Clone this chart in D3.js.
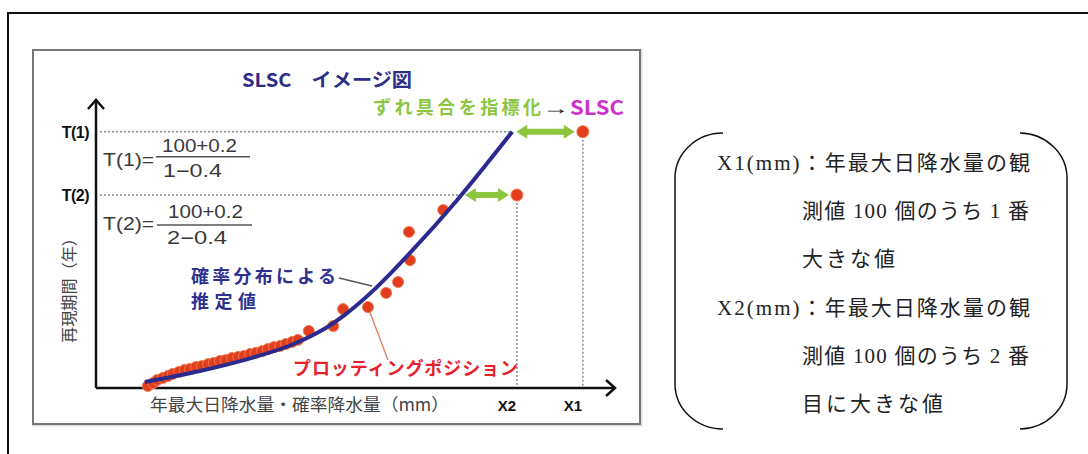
<!DOCTYPE html>
<html><head><meta charset="utf-8">
<script src="https://cdn.jsdelivr.net/npm/d3@7"></script>
<style>
html,body{margin:0;padding:0;background:#fff;}
svg{display:block;}
</style></head>
<body>
<svg id="c" width="1088" height="454"></svg>
<script>
// ---- data (arbitrary illustration units) ----
const curveX = [9.4, 20, 29.7, 37, 43, 48, 53.4, 60.5, 69.6, 80.2];
const curveY = [2.1, 5.9, 10.3, 14.5, 19.5, 25.5, 33.8, 46.9, 65.3, 89];
const dotsX = [10.0, 11.0, 11.8, 12.9, 13.9, 14.8, 16.0, 17.1, 18.1, 19.3, 20.4, 21.6, 22.7, 23.9, 25.0, 26.2, 27.4, 28.5, 29.7, 30.8, 32.0, 33.1, 34.3, 35.5, 36.6, 37.8, 38.9, 41.0, 45.7, 47.6, 52.4, 55.9, 58.2, 60.5, 60.3, 66.9];
const dotsY = [0.7, 1.7, 2.8, 3.5, 4.2, 4.9, 5.6, 6.3, 6.6, 7.3, 7.6, 8.3, 8.7, 9.4, 9.7, 10.4, 10.8, 11.1, 11.8, 12.2, 12.8, 13.5, 14.2, 14.6, 15.3, 16.0, 16.7, 19.8, 21.5, 27.4, 28.1, 33.0, 36.8, 44.4, 54.2, 61.8];
const tLabels = ["T(1)", "T(2)"];
const tLevels = [89, 67];
const curveAtT = [80.2, 70.3];
const xLabels = ["X1", "X2"];
const xValues = [93.8, 81.1];
const formulaNum = ["100+0.2", "100+0.2"];
const formulaDen = ["1\u22120.4", "2\u22120.4"];
const noteLines = [
  ["X1(mm)：年最大日降水量の観", 0],
  ["測値 100 個のうち 1 番", 1],
  ["大きな値", 1],
  ["X2(mm)：年最大日降水量の観", 0],
  ["測値 100 個のうち 2 番", 1],
  ["目に大きな値", 1]
];

const svg = d3.select("#c");
const JP = "'Noto Sans CJK JP', 'Noto Sans', sans-serif";
const SANS = "'Liberation Sans', Arial, sans-serif";

// outer frame (top + left visible)
svg.append("path").attr("d", "M8,454 L8,13 L1088,13").attr("fill", "none").attr("stroke", "#111").attr("stroke-width", 2);

// inner picture frame
svg.append("rect").attr("x", 34).attr("y", 51).attr("width", 607).attr("height", 374)
  .attr("fill", "none").attr("stroke", "#ddd").attr("stroke-width", 3);
svg.append("rect").attr("x", 33).attr("y", 50).attr("width", 607).attr("height", 374)
  .attr("fill", "#fff").attr("stroke", "#777").attr("stroke-width", 2);

// scales
const x = d3.scaleLinear().domain([0, 100]).range([96, 615]);
const y = d3.scaleLinear().domain([0, 100]).range([388, 100]);

// dotted guide lines
const g = svg.append("g");
tLevels.forEach((t, i) => {
  g.append("line").attr("x1", 100).attr("x2", x(curveAtT[i]))
    .attr("y1", y(t)).attr("y2", y(t))
    .attr("stroke", "#8a8a8a").attr("stroke-width", 1.5).attr("stroke-dasharray", "2,2");
});
xValues.forEach((v, i) => {
  g.append("line").attr("x1", x(v)).attr("x2", x(v))
    .attr("y1", y(tLevels[i])).attr("y2", y(0))
    .attr("stroke", "#8a8a8a").attr("stroke-width", 1.5).attr("stroke-dasharray", "2,2");
});

// axes
svg.append("line").attr("x1", x(0)).attr("x2", 614).attr("y1", y(0)).attr("y2", y(0)).attr("stroke", "#111").attr("stroke-width", 2.5);
svg.append("line").attr("x1", x(0)).attr("x2", x(0)).attr("y1", y(0)).attr("y2", 101).attr("stroke", "#111").attr("stroke-width", 2.5);
svg.append("path").attr("d", `M${606},${y(0)-8} L${615},${y(0)} L${606},${y(0)+8}`).attr("fill", "none").attr("stroke", "#111").attr("stroke-width", 2.5);
svg.append("path").attr("d", `M${x(0)-8},${109} L${x(0)},${100} L${x(0)+8},${109}`).attr("fill", "none").attr("stroke", "#111").attr("stroke-width", 2.5);

// leader lines
svg.append("line").attr("x1", 339).attr("y1", 278).attr("x2", 372).attr("y2", 286).attr("stroke", "#555").attr("stroke-width", 1.3);
svg.append("line").attr("x1", x(52.4)).attr("y1", y(28.1)).attr("x2", 388).attr("y2", 360).attr("stroke", "#e07a5a").attr("stroke-width", 1.3);

// dots
const pts = dotsX.map((d, i) => [d, dotsY[i]]);
svg.append("g").selectAll("circle").data(pts).join("circle")
  .attr("cx", d => x(d[0])).attr("cy", d => y(d[1])).attr("r", 5.5)
  .attr("fill", "#e23d1c").attr("stroke", "#f07a50").attr("stroke-width", 1);

// fitted curve
const cpts = curveX.map((d, i) => [d, curveY[i]]);
svg.append("path").datum(cpts)
  .attr("d", d3.line().x(d => x(d[0])).y(d => y(d[1])).curve(d3.curveCatmullRom))
  .attr("fill", "none").attr("stroke", "#2b2b8f").attr("stroke-width", 4);

// X1 / X2 observation dots
xValues.forEach((v, i) => {
  svg.append("circle").attr("cx", x(v)).attr("cy", y(tLevels[i])).attr("r", 6)
    .attr("fill", "#e23d1c").attr("stroke", "#f07a50").attr("stroke-width", 1);
});

// green double arrows
function dblArrow(x1, x2, yy) {
  const h = 3, hl = 11, hw = 7;
  const p = `M${x1},${yy} L${x1+hl},${yy-hw} L${x1+hl},${yy-h} L${x2-hl},${yy-h} L${x2-hl},${yy-hw} L${x2},${yy} L${x2-hl},${yy+hw} L${x2-hl},${yy+h} L${x1+hl},${yy+h} L${x1+hl},${yy+hw} Z`;
  svg.append("path").attr("d", p).attr("fill", "#8cc63f");
}
tLevels.forEach((t, i) => {
  dblArrow(x(curveAtT[i]) + 4, x(xValues[i]) - 8, y(t));
});

// T labels
tLabels.forEach((t, i) => {
  svg.append("text").attr("x", 89).attr("y", y(tLevels[i]) + 6).attr("text-anchor", "end")
    .attr("font-family", SANS).attr("font-weight", "bold").attr("font-size", 16)
    .attr("letter-spacing", -0.5).attr("fill", "#111").text(t);
});

// formulas
const fOff = [{lab: 28, num: 14, line: 25, den: 39, nx: [162, 237], lx: [156, 250], dx: [163, 222]},
              {lab: 29, num: 17, line: 30, den: 43, nx: [168, 243], lx: [157, 252], dx: [167, 227]}];
tLevels.forEach((t, i) => {
  const yy = y(t), o = fOff[i];
  const ft = (tx, ty, s, len) => svg.append("text").attr("x", tx).attr("y", ty)
    .attr("font-family", SANS).attr("font-size", 18).attr("fill", "#3a3a3a")
    .attr("textLength", len).attr("lengthAdjust", "spacingAndGlyphs").text(s);
  ft(103, yy + o.lab + 6, tLabels[i] + "=", 51);
  ft(o.nx[0], yy + o.num + 6, formulaNum[i], o.nx[1] - o.nx[0]);
  ft(o.dx[0], yy + o.den + 6, formulaDen[i], o.dx[1] - o.dx[0]);
  svg.append("line").attr("x1", o.lx[0]).attr("x2", o.lx[1]).attr("y1", yy + o.line).attr("y2", yy + o.line)
    .attr("stroke", "#555").attr("stroke-width", 1.5);
});

// title
svg.append("text").attr("x", 242).attr("y", 87).attr("font-family", JP).attr("font-weight", "bold")
  .attr("font-size", 19).attr("fill", "#2e2e88").attr("textLength", 170).attr("lengthAdjust", "spacingAndGlyphs")
  .text("SLSC\u3000イメージ図");

// deviation label
svg.append("text").attr("x", 373).attr("y", 114).attr("font-family", JP).attr("font-weight", "bold")
  .attr("font-size", 18).attr("fill", "#8cc63f").attr("textLength", 168).attr("lengthAdjust", "spacing")
  .text("ずれ具合を指標化");
svg.append("text").attr("x", 542).attr("y", 114).attr("font-family", SANS).attr("font-weight", "bold")
  .attr("font-size", 18).attr("fill", "#222").attr("textLength", 27).attr("lengthAdjust", "spacingAndGlyphs").text("→");
svg.append("text").attr("x", 570).attr("y", 115).attr("font-family", JP).attr("font-weight", "bold")
  .attr("font-size", 20).attr("fill", "#cc33cc").attr("textLength", 54).attr("lengthAdjust", "spacingAndGlyphs").text("SLSC");

// curve label
svg.append("text").attr("x", 191).attr("y", 283).attr("font-family", JP).attr("font-weight", "bold")
  .attr("font-size", 18).attr("fill", "#2e3192").attr("textLength", 145).attr("lengthAdjust", "spacing").text("確率分布による");
svg.append("text").attr("x", 191).attr("y", 308).attr("font-family", JP).attr("font-weight", "bold")
  .attr("font-size", 18).attr("fill", "#2e3192").attr("textLength", 65).attr("lengthAdjust", "spacing").text("推定値");

// plotting position label
svg.append("text").attr("x", 293).attr("y", 375).attr("font-family", JP).attr("font-weight", "bold")
  .attr("font-size", 18).attr("fill", "#e8202a").attr("textLength", 225).attr("lengthAdjust", "spacing").text("プロッティングポジション");

// axis titles
svg.append("text").attr("x", 150).attr("y", 411).attr("font-family", JP)
  .attr("font-size", 17).attr("fill", "#444").attr("textLength", 299).attr("lengthAdjust", "spacingAndGlyphs")
  .text("年最大日降水量・確率降水量（mm）");
svg.append("text").attr("transform", "translate(75,343) rotate(-90)").attr("font-family", JP)
  .attr("font-size", 16).attr("fill", "#444").attr("textLength", 113).attr("lengthAdjust", "spacingAndGlyphs")
  .text("再現期間（年）");

xLabels.forEach((l, i) => {
  svg.append("text").attr("x", x(xValues[i]) - 10).attr("y", 411).attr("text-anchor", "middle")
    .attr("font-family", SANS).attr("font-weight", "bold").attr("font-size", 15).attr("fill", "#111").text(l);
});

// right note box (bracket)
svg.append("path").attr("d", "M723,133 A48,45 0 0 0 675,178 L675,384 A48,45 0 0 0 723,429")
  .attr("fill", "none").attr("stroke", "#111").attr("stroke-width", 1.5);
svg.append("path").attr("d", "M1020,133 A48,45 0 0 1 1067,178 L1067,384 A48,45 0 0 1 1020,429")
  .attr("fill", "none").attr("stroke", "#111").attr("stroke-width", 1.5);

const noteY0 = 170, noteDY = 48.2;
const noteLen = {0: 316, 1: 230};
noteLines.forEach((ln, i) => {
  const t = ln[0];
  const tx = ln[1] ? 802 : 717;
  const el = svg.append("text").attr("x", tx).attr("y", noteY0 + i * noteDY)
    .attr("font-family", "'Liberation Serif', 'Noto Sans CJK JP', serif").attr("font-size", 21)
    .attr("fill", "#222").attr("letter-spacing", 3).text(t);
  if (i % 3 === 0) el.attr("textLength", 316).attr("lengthAdjust", "spacing");
  if (i % 3 === 1) el.attr("textLength", 230).attr("lengthAdjust", "spacing");
});
</script>
</body></html>
